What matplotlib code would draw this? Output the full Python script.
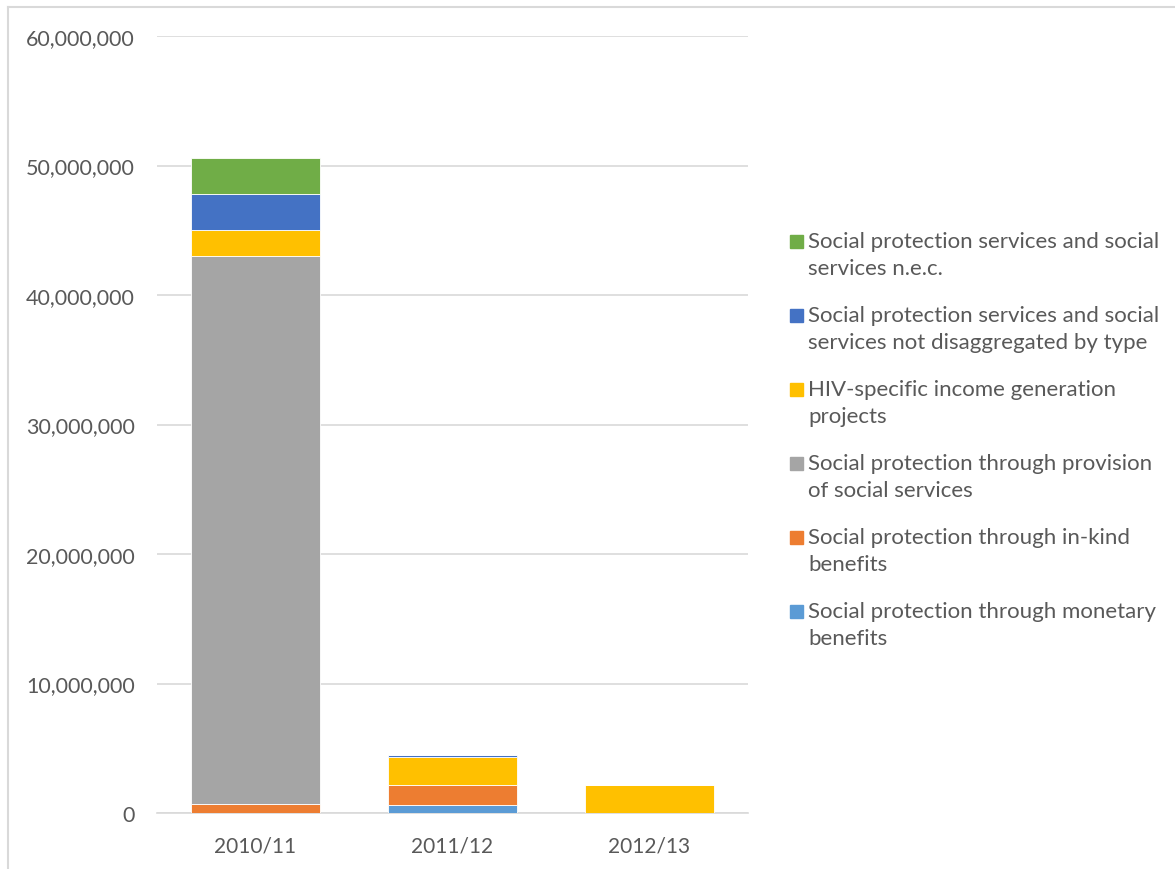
import matplotlib as mpl
import matplotlib.pyplot as plt
import numpy as np
from matplotlib.lines import Line2D
from matplotlib.patches import Rectangle

mpl.rcParams["font.family"] = ["Lato", "DejaVu Sans"]

years = ["2010/11", "2011/12", "2012/13"]

# stacked bottom-up
monetary = [0, 640000, 0]
in_kind = [700000, 1550000, 0]
provision = [42300000, 0, 0]
hiv_income = [2040000, 2110000, 2150000]
not_disaggregated = [2780000, 200000, 0]
nec = [2780000, 0, 0]

series = [
    (monetary, "Social protection through monetary\nbenefits", "#5B9BD5"),
    (in_kind, "Social protection through in-kind\nbenefits", "#ED7D31"),
    (provision, "Social protection through provision\nof social services", "#A5A5A5"),
    (hiv_income, "HIV-specific income generation\nprojects", "#FFC000"),
    (not_disaggregated, "Social protection services and social\nservices not disaggregated by type", "#4472C4"),
    (nec, "Social protection services and social\nservices n.e.c.", "#70AD47"),
]

fig = plt.figure(figsize=(11.75, 8.7), dpi=100)
ax = fig.add_axes([157 / 1175, 1 - 814 / 870, 591 / 1175, 777 / 870])

x = np.arange(len(years))
bottom = np.zeros(len(years))
for values, label, color in series:
    ax.bar(x, values, 0.65, bottom=bottom, color=color,
           edgecolor="white", linewidth=0.6, zorder=3)
    bottom += np.array(values)

ax.set_xlim(-0.5, 2.5)
ax.set_ylim(0, 60000000)
ax.set_yticks(np.arange(0, 60000001, 10000000))
ax.yaxis.set_major_formatter(mpl.ticker.FuncFormatter(lambda v, p: f"{int(v):,}"))
ax.set_xticks(x, years)
ax.grid(axis="y", color="#D9D9D9", linewidth=1.2, zorder=0)
for side in ["left", "right", "top"]:
    ax.spines[side].set_visible(False)
ax.spines["bottom"].set_color("#D9D9D9")
ax.spines["bottom"].set_linewidth(1.2)
ax.tick_params(axis="y", length=0, labelsize=15.5, colors="#595959", pad=16)
ax.tick_params(axis="x", length=0, labelsize=15, colors="#595959", pad=16)

# legend, top entry first
entry_top = 1 - 242 / 870
step = 74 / 870
for i, (values, label, color) in enumerate(reversed(series)):
    y = entry_top - i * step
    fig.patches.append(Rectangle((790 / 1175, y - 7 / 870), 13 / 1175, 13 / 870,
                                 transform=fig.transFigure, color=color))
    fig.text(808 / 1175, y + 10 / 870, label, fontsize=16, color="#595959",
             va="top", ha="left", linespacing=1.46,
             transform=fig.transFigure)

# chart area border
fig.add_artist(Line2D([8 / 1175, 8 / 1175], [0, 1 - 8 / 870], color="#D9D9D9",
                      linewidth=1.5, transform=fig.transFigure))
fig.add_artist(Line2D([8 / 1175, 1], [1 - 8 / 870, 1 - 8 / 870], color="#D9D9D9",
                      linewidth=1.5, transform=fig.transFigure))

plt.savefig("out.png", dpi=100)
